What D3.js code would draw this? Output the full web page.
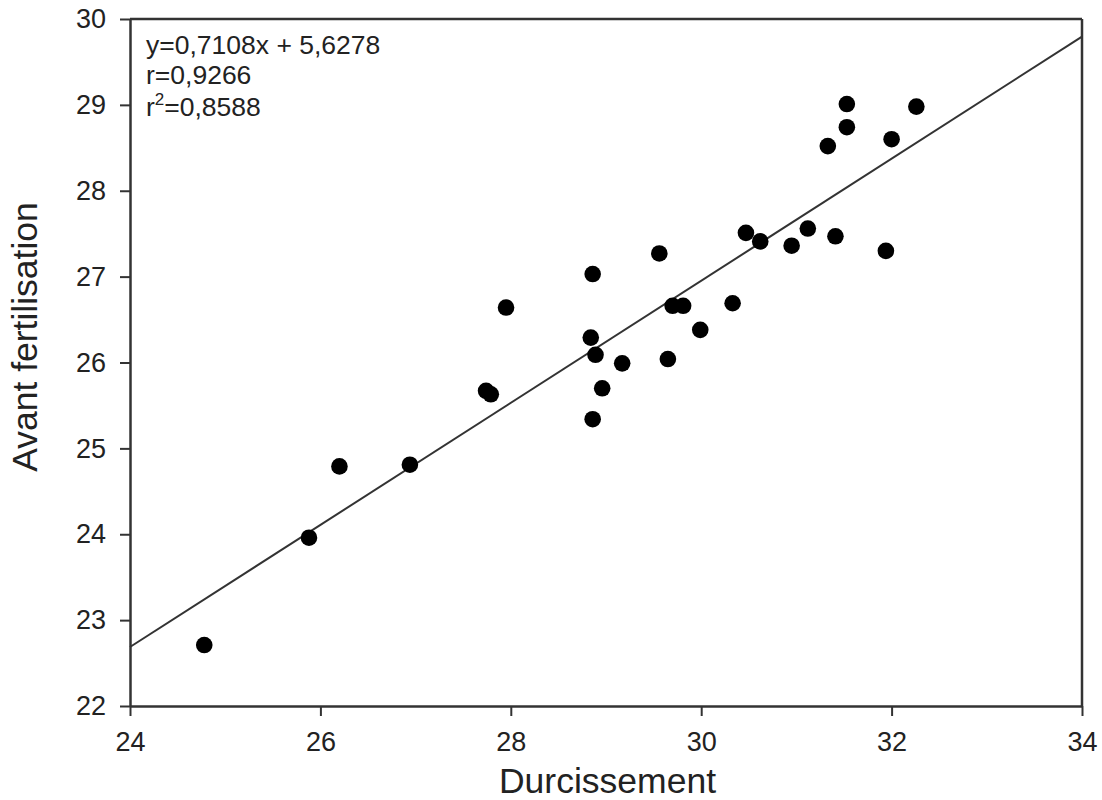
<!DOCTYPE html>
<html>
<head>
<meta charset="utf-8">
<script src="https://cdn.jsdelivr.net/npm/d3@7"></script>
<style>
  body { margin: 0; background: #fff; }
  svg { display: block; font-family: Arial, "Liberation Sans", sans-serif; }
</style>
</head>
<body>
<svg id="chart" width="1102" height="800"></svg>
<script>
// Durcissement (x) vs Avant fertilisation (y)
const durcissement = [24.78, 25.88, 26.20, 26.94, 27.74, 27.79, 27.95, 28.86, 28.84, 28.89,
  28.96, 28.86, 29.17, 29.56, 29.65, 29.70, 29.81, 29.99, 30.33, 30.47,
  30.62, 30.95, 31.12, 31.41, 31.33, 31.53, 31.53, 32.00, 31.94, 32.26];
const avantFertilisation = [22.71, 23.96, 24.79, 24.81, 25.67, 25.63, 26.64, 27.03, 26.29, 26.09,
  25.70, 25.34, 25.99, 27.27, 26.04, 26.66, 26.66, 26.38, 26.69, 27.51,
  27.41, 27.36, 27.56, 27.47, 28.52, 29.01, 28.74, 28.60, 27.30, 28.98];

const xTicks = [24, 26, 28, 30, 32, 34];
const yTicks = [22, 23, 24, 25, 26, 27, 28, 29, 30];

const slope = 0.7108, intercept = 5.6278;
const statLines = ["y=0,7108x + 5,6278", "r=0,9266"];
const r2Value = "=0,8588";

const svg = d3.select("#chart");
const plotLeft = 130, plotRight = 1082, plotTop = 19, plotBottom = 706;

const x = d3.scaleLinear().domain([24, 34]).range([plotLeft, plotRight]);
const y = d3.scaleLinear().domain([22, 30]).range([plotBottom, plotTop]);

const axisColor = "#333";
const textColor = "#222";

// frame (top and right edges)
svg.append("line").attr("x1", plotLeft).attr("x2", plotRight).attr("y1", plotTop).attr("y2", plotTop)
  .attr("stroke", axisColor).attr("stroke-width", 2.5);
svg.append("line").attr("x1", plotRight).attr("x2", plotRight).attr("y1", plotTop).attr("y2", plotBottom)
  .attr("stroke", axisColor).attr("stroke-width", 2.5);

// bottom axis
const gx = svg.append("g").attr("transform", `translate(0,${plotBottom})`)
  .call(d3.axisBottom(x).tickValues(xTicks).tickFormat(d3.format("d")).tickSize(10).tickPadding(16).tickSizeOuter(0));
// left axis
const gy = svg.append("g").attr("transform", `translate(${plotLeft},0)`)
  .call(d3.axisLeft(y).tickValues(yTicks).tickFormat(d3.format("d")).tickSize(10).tickPadding(14).tickSizeOuter(0));

[gx, gy].forEach(g => {
  g.select(".domain").attr("stroke", axisColor).attr("stroke-width", 2.5);
  g.selectAll(".tick line").attr("stroke", axisColor).attr("stroke-width", 2);
  g.selectAll(".tick text").attr("fill", textColor).attr("font-size", 27)
    .attr("font-family", "Arial, 'Liberation Sans', sans-serif");
});
gx.selectAll(".tick text").attr("dy", "0.71em");

// regression line
svg.append("line")
  .attr("x1", x(24)).attr("y1", y(slope * 24 + intercept))
  .attr("x2", x(34)).attr("y2", y(slope * 34 + intercept))
  .attr("stroke", "#333").attr("stroke-width", 2);

// points
svg.append("g").selectAll("circle")
  .data(durcissement.map((d, i) => [d, avantFertilisation[i]]))
  .join("circle")
  .attr("cx", d => x(d[0])).attr("cy", d => y(d[1]))
  .attr("r", 8.3).attr("fill", "#000");

// statistics
const stats = svg.append("g").attr("fill", textColor).attr("font-size", 26.5);
stats.append("text").attr("x", 146).attr("y", 54).text(statLines[0]);
stats.append("text").attr("x", 146).attr("y", 84).text(statLines[1]);
const r2 = stats.append("text").attr("x", 146).attr("y", 116);
r2.append("tspan").text("r");
r2.append("tspan").attr("font-size", 17).attr("dy", -11).text("2");
r2.append("tspan").attr("dy", 11).text(r2Value);

// axis titles
svg.append("text").attr("x", 607.5).attr("y", 793)
  .attr("text-anchor", "middle").attr("font-size", 35.5).attr("fill", textColor)
  .text("Durcissement");
svg.append("text")
  .attr("transform", "translate(37,337) rotate(-90)")
  .attr("text-anchor", "middle").attr("font-size", 35.5).attr("fill", textColor)
  .text("Avant fertilisation");
</script>
</body>
</html>
